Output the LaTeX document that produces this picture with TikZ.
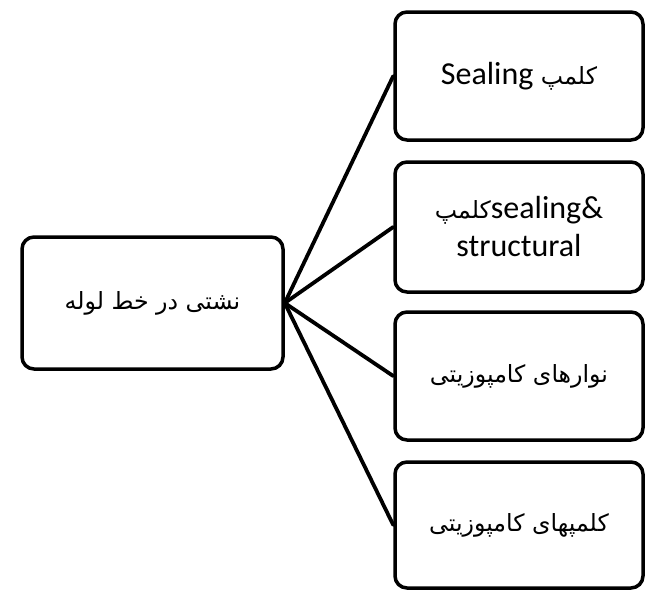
\documentclass[tikz,border=0pt]{standalone}
\usepackage{fontspec}
\setmainfont{Carlito}
\newfontfamily\arabicfont[Script=Arabic,Scale=0.74]{DejaVu Sans}
\TeXXeTstate=1
\begin{document}
\begin{tikzpicture}[x=1pt,y=-1pt,
  box/.style={draw=black, line width=3.5pt, rounded corners=12pt, fill=white,
    minimum width=#1, inner sep=0pt, align=center, font=\fontsize{32}{38}\selectfont},
  link/.style={line width=3.8pt, line cap=round}]
\useasboundingbox (0,0) rectangle (645,590);
\node[box=261pt, minimum height=132pt] (root) at (152.5,303) {\arabicfont\beginR نشتی در خط لوله\endR};
\node[box=248pt, minimum height=128pt] (a) at (519,76) {\arabicfont\beginR کلمپ \beginL{\rmfamily Sealing}\endL\endR};
\node[box=248pt, minimum height=130pt] (b) at (519,227) {{\arabicfont\beginR کلمپ\endR}sealing\&\\structural};
\node[box=248pt, minimum height=128pt] (c) at (519,376) {\arabicfont\beginR نوارهای کامپوزیتی\endR};
\node[box=248pt, minimum height=126pt] (d) at (519,525) {\arabicfont\beginR کلمپهای کامپوزیتی\endR};
\foreach \n in {a,b,c,d} \draw[link] (root.east) -- (\n.west);
\end{tikzpicture}
\end{document}
